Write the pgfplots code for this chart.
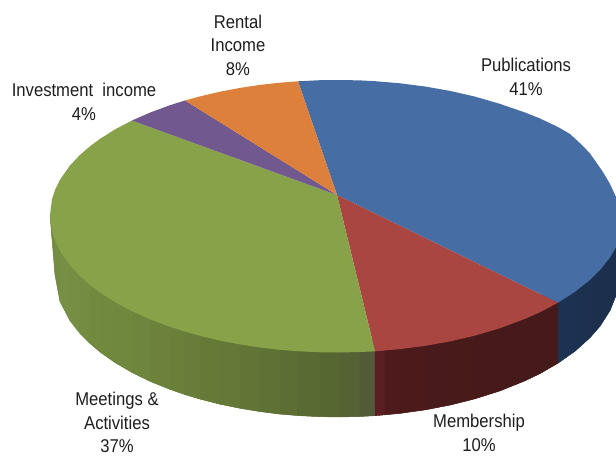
\documentclass[border=0pt]{standalone}
\usepackage{pgfplots}
\pgfplotsset{compat=1.18}
\usepackage{fontspec}
\setmainfont[FakeStretch=0.9]{Liberation Sans}
\definecolor{pblue}{RGB}{70,110,165}
\definecolor{pred}{RGB}{170,70,65}
\definecolor{pgreen}{RGB}{136,162,74}
\definecolor{ppurple}{RGB}{113,88,143}
\definecolor{porange}{RGB}{220,128,60}
\definecolor{ptext}{RGB}{30,30,30}
\tikzset{lab/.style={text=ptext, align=center, inner sep=0pt, font=\fontsize{18.5}{23.5}\selectfont}}
\begin{document}
\begin{tikzpicture}
\useasboundingbox (0,0) rectangle (616pt,457pt);
\begin{axis}[
  at={(0,0)}, anchor=south west,
  scale only axis, width=616pt, height=457pt,
  xmin=0, xmax=616, ymin=0, ymax=457, y dir=reverse,
  hide axis, clip=true,
  point meta min=0, point meta max=15,
  colormap={pie}{
    rgb255=(122,147,72) rgb255=(118,142,68) rgb255=(115,138,64) rgb255=(112,135,62)
    rgb255=(108,130,59) rgb255=(104,125,57) rgb255=(100,120,55) rgb255=(96,115,53)
    rgb255=(91,109,51)  rgb255=(86,103,50)  rgb255=(82,90,55)   rgb255=(90,30,35)
    rgb255=(78,26,28)   rgb255=(70,26,26)   rgb255=(28,50,82)   rgb255=(28,48,78)
  },
]
% solid ground under the strips of the side
\addplot[fill={rgb,255:red,105;green,126;blue,58}, draw=none] coordinates {(50,215)(52,239)(55,275)(60,301.6)(70,320.7)(80,333.5)(90,343.5)(100,352)(115,362.6)(132,372.5)(150,381.3)(170,389.4)(185,394.6)(200,399.1)(220,404.2)(240,408.3)(260,411.6)(280,414.1)(298,415.6)(320,416.7)(340,417)(360,416.5)(375,415.7)(375,340)(50,215)} -- cycle;
\addplot[fill={rgb,255:red,74;green,26;blue,27}, draw=none] coordinates {(375,340)(375,415.7)(385,414.8)(400,413.4)(425,409.9)(450,405.1)(475,398.8)(500,390.9)(525,380.8)(540,373.6)(558,363.2)(558,290)} -- cycle;
\addplot[fill={rgb,255:red,28;green,49;blue,80}, draw=none] coordinates {(558,290)(558,363.2)(575,351.2)(590,337.7)(600,326.2)(610,310.6)(616,295.7)(616,240)} -- cycle;
% side of the disc: one strip per quad (x, y, colour index)
\addplot[patch, patch type=rectangle, shader=flat, point meta=explicit] table[meta=c]{
x y c
50 215 1.5
50 215 1.5
52 239 1.5
52 231 1.5
52 231 1.5
52 239 1.5
55 275 1.5
55 240.5 1.5
55 240.5 1.2
55 275 1.2
60 301.6 1.2
60 251 1.2
60 251 0.8
60 301.6 0.8
70 320.7 0.8
70 265.4 0.8
70 265.4 1
70 320.7 1
80 333.5 1
80 276.2 1
80 276.2 1.6
80 333.5 1.6
90 343.5 1.6
90 285 1.6
90 285 2.2
90 343.5 2.2
100 352 2.2
100 292.6 2.2
100 292.6 2.6
100 352 2.6
115 362.6 2.6
115 302.1 2.6
115 302.1 3
115 362.6 3
132 372.5 3
132 311.2 3
132 311.2 3.4
132 372.5 3.4
150 381.3 3.4
150 319.3 3.4
150 319.3 4
150 381.3 4
170 389.4 4
170 326.8 4
170 326.8 4.4
170 389.4 4.4
185 394.6 4.4
185 331.6 4.4
185 331.6 5
185 394.6 5
200 399.1 5
200 335.8 5
200 335.8 5.6
200 399.1 5.6
220 404.2 5.6
220 340.6 5.6
220 340.6 6
220 404.2 6
240 408.3 6
240 344.4 6
240 344.4 6.6
240 408.3 6.6
260 411.6 6.6
260 347.5 6.6
260 347.5 7.2
260 411.6 7.2
280 414.1 7.2
280 349.8 7.2
280 349.8 7.8
280 414.1 7.8
298 415.6 7.8
298 351.2 7.8
298 351.2 8.3
298 415.6 8.3
320 416.7 8.3
320 352.3 8.3
320 352.3 9
320 416.7 9
340 417 9
340 352.5 9
340 352.5 9.4
340 417 9.4
360 416.5 9.4
360 352 9.4
360 352 10
360 416.5 10
375 415.7 10
375 351.3 10
375 351.3 11
375 415.7 11
385 414.8 11
385 350.4 11
385 350.4 12
385 414.8 12
400 413.4 12
400 349.1 12
400 349.1 12.3
400 413.4 12.3
425 409.9 12.3
425 345.9 12.3
425 345.9 12.6
425 409.9 12.6
450 405.1 12.6
450 341.4 12.6
450 341.4 12.8
450 405.1 12.8
475 398.8 12.8
475 335.6 12.8
475 335.6 13
475 398.8 13
500 390.9 13
500 328.2 13
500 328.2 13
500 390.9 13
525 380.8 13
525 318.9 13
525 318.9 13
525 380.8 13
540 373.6 13
540 312.2 13
540 312.2 13
540 373.6 13
558 363.2 13
558 302.7 13
558 302.7 14
558 363.2 14
575 351.2 14
575 291.8 14
575 291.8 14.5
575 351.2 14.5
590 337.7 14.5
590 279.9 14.5
590 279.9 15
590 337.7 15
600 326.2 15
600 270 15
600 270 15
600 326.2 15
610 310.6 15
610 257.4 15
610 257.4 15
610 310.6 15
616 295.7 15
616 247.2 15
};
% top face
\addplot[fill=pblue, draw=none] coordinates {(337,195)(298,81.3)(320,80.2)(340,80)(360,80.4)(375,81.2)(400,83.3)(425,86.5)(450,90.9)(475,96.6)(500,103.9)(525,112.5)(540,118.5)(558,127)(570,134)(583,146)(590,153.5)(603,172)(610,184)(616,197)(620,222)(616,247.2)(610,257.4)(600,270)(590,279.9)(575,291.8)(558,302.7)} -- cycle;
\addplot[fill=pred, draw=none] coordinates {(337,195)(558,302.7)(540,312.2)(525,318.9)(500,328.2)(475,335.6)(450,341.4)(425,345.9)(400,349.1)(375,351.3)} -- cycle;
\addplot[fill=pgreen, draw=none] coordinates {(337,195)(375,351.3)(360,352)(340,352.5)(320,352.3)(298,351.2)(280,349.8)(260,347.5)(240,344.4)(220,340.6)(200,335.8)(185,331.6)(170,326.8)(150,319.3)(132,311.2)(115,302.1)(100,292.6)(90,285)(80,276.2)(70,265.4)(60,251)(55,240.5)(52,231)(50,215)(52,199)(55,190)(60,179.7)(70,165.5)(80,154.9)(90,146.3)(100,138.9)(115,129.4)(132,120.5)} -- cycle;
\addplot[fill=ppurple, draw=none] coordinates {(337,195)(132,120.5)(150,112.6)(170,105.2)(185,100.5)} -- cycle;
\addplot[fill=porange, draw=none] coordinates {(337,195)(185,100.5)(200,96.4)(220,91.7)(240,87.9)(260,84.9)(280,82.7)(298,81.3)} -- cycle;
% labels
\node[lab] at (axis cs:526,77) {Publications\\41\%};
\node[lab] at (axis cs:238,45) {Rental\\Income\\8\%};
\node[lab] at (axis cs:84,102) {Investment~ income\\4\%};
\node[lab] at (axis cs:117,422.5) {Meetings \&\\Activities\\37\%};
\node[lab] at (axis cs:479,433) {Membership\\10\%};
\end{axis}
\end{tikzpicture}
\end{document}
